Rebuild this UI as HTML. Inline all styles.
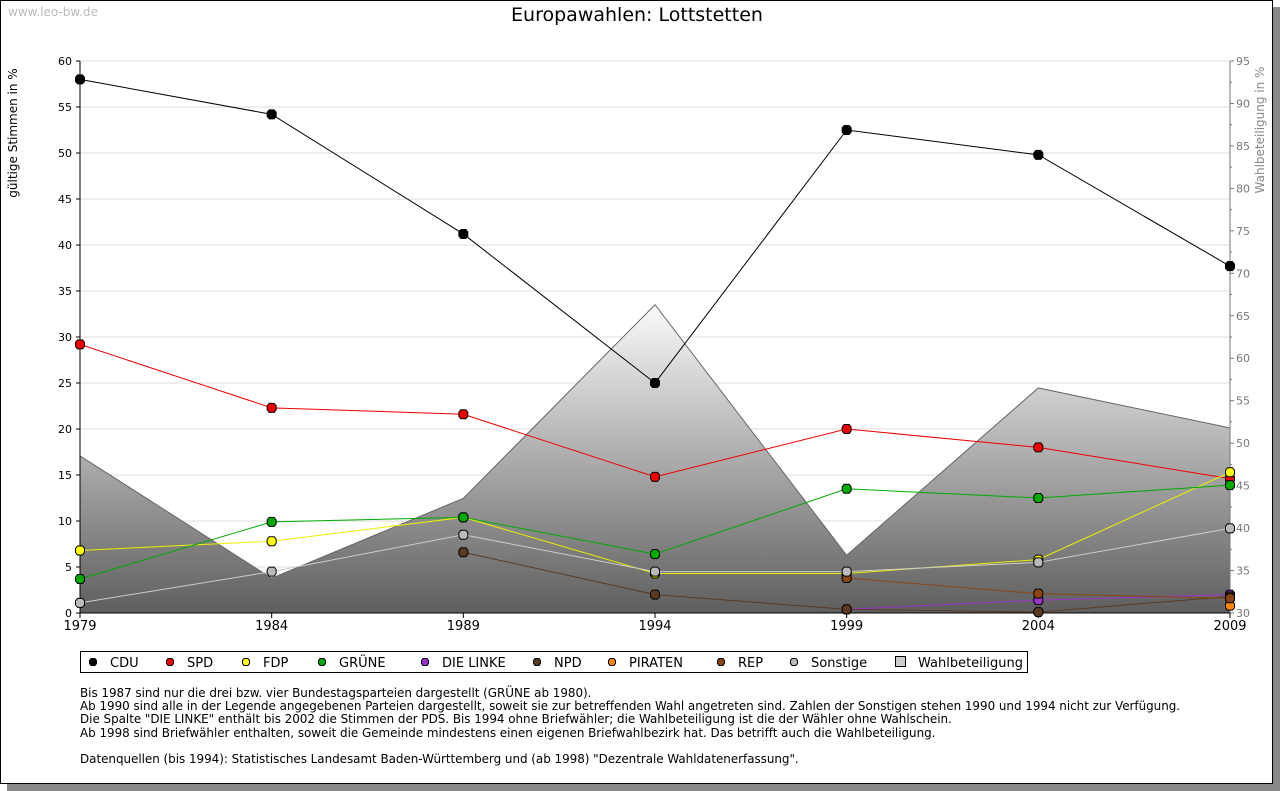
<!DOCTYPE html>
<html><head><meta charset="utf-8"><style>
body{margin:0;background:#fff;width:1280px;height:791px;overflow:hidden;font-family:"DejaVu Sans","Liberation Sans",sans-serif;}
#frame{position:absolute;left:0;top:0;width:1271px;height:782px;border:1px solid #000;box-shadow:7px 7px 0 #888;background:#fff;}
.notes{position:absolute;left:80px;top:687px;font-size:11.95px;letter-spacing:-0.03px;line-height:13.2px;color:#000;white-space:pre;}
</style></head><body>
<div id="frame"></div>
<svg id="chart" width="1280" height="791" style="position:absolute;left:0;top:0">
<defs><linearGradient id="wg" x1="0" y1="0" x2="0" y2="1"><stop offset="0" stop-color="#fafafa"/><stop offset="1" stop-color="#5e5e5e"/></linearGradient></defs>
<text x="8" y="16" font-size="12" fill="#bbb">www.leo-bw.de</text>
<text x="637" y="21" font-size="19" text-anchor="middle">Europawahlen: Lottstetten</text>
<text transform="translate(17,133) rotate(-90)" font-size="12" text-anchor="middle">gültige Stimmen in %</text>
<text transform="translate(1264,130) rotate(-90)" font-size="12" text-anchor="middle" fill="#888">Wahlbeteiligung in %</text>
<g id="g"></g>
</svg>
<div class="notes">Bis 1987 sind nur die drei bzw. vier Bundestagsparteien dargestellt (GRÜNE ab 1980).
Ab 1990 sind alle in der Legende angegebenen Parteien dargestellt, soweit sie zur betreffenden Wahl angetreten sind. Zahlen der Sonstigen stehen 1990 und 1994 nicht zur Verfügung.
Die Spalte "DIE LINKE" enthält bis 2002 die Stimmen der PDS. Bis 1994 ohne Briefwähler; die Wahlbeteiligung ist die der Wähler ohne Wahlschein.
Ab 1998 sind Briefwähler enthalten, soweit die Gemeinde mindestens einen eigenen Briefwahlbezirk hat. Das betrifft auch die Wahlbeteiligung.

Datenquellen (bis 1994): Statistisches Landesamt Baden-Württemberg und (ab 1998) "Dezentrale Wahldatenerfassung".</div>
<script>
const years=[1979,1984,1989,1994,1999,2004,2009];
const seriesNames=["CDU","SPD","FDP","GRÜNE","DIE LINKE","NPD","PIRATEN","REP","Sonstige"];
const seriesColors=["#000","#e00","#ff0","#0a0","#93c","#5a3a22","#f80","#8b4513","#bbb"];
const lineColors=["#000","#e00","#ee0","#0a0","#93c","#5a3a22","#f80","#8b4513","#ccc"];
const cdu=[58.0,54.2,41.2,25.0,52.5,49.8,37.7];
const spd=[29.2,22.3,21.6,14.8,20.0,18.0,14.6];
const fdp=[6.8,7.8,10.4,4.3,4.3,5.8,15.3];
const gruene=[3.7,9.9,10.4,6.4,13.5,12.5,13.9];
const linke=[null,null,null,null,0.4,1.4,2.0];
const npd=[null,null,6.6,2.0,0.4,0.1,1.8];
const piraten=[null,null,null,null,null,null,0.8];
const rep=[null,null,null,null,3.8,2.1,1.6];
const sonstige=[1.1,4.5,8.5,4.5,4.5,5.5,9.2];
const turnout=[48.5,34.1,43.5,66.3,36.8,56.5,51.8];
const yTicks=[0,5,10,15,20,25,30,35,40,45,50,55,60];
const y2Ticks=[30,35,40,45,50,55,60,65,70,75,80,85,90,95];
const all=[cdu,spd,fdp,gruene,linke,npd,piraten,rep,sonstige];
const X0=80,X1=1230,YB=613,YT=61;
const x=v=>X0+(v-years[0])/(years[years.length-1]-years[0])*(X1-X0);
const y=v=>YB-v/60*(YB-YT);
const y2=v=>YB-(v-30)/65*(YB-YT);
const g=document.getElementById('g');
const NS="http://www.w3.org/2000/svg";
function mk(t,a,p){const e=document.createElementNS(NS,t);for(const k in a)e.setAttribute(k,a[k]);(p||g).appendChild(e);return e;}
function marker(cx,cy,fill,r){return mk('path',{d:`M${cx-r*0.55},${cy-r} L${cx+r*0.55},${cy-r} L${cx+r},${cy-r*0.45} L${cx+r},${cy+r*0.45} L${cx+r*0.55},${cy+r} L${cx-r*0.55},${cy+r} L${cx-r},${cy+r*0.45} L${cx-r},${cy-r*0.45}Z`,fill:fill,stroke:'#000','stroke-width':1});}
yTicks.forEach(t=>{const l=mk('line',{x1:X0,x2:X1,y1:y(t),y2:y(t),stroke:'#ddd'});

const tx=mk('text',{x:X0-8,y:y(t)+4,'font-size':11,'text-anchor':'end'});tx.textContent=t;

mk('line',{x1:X0-4,x2:X0,y1:y(t),y2:y(t),stroke:'#000'});});
y2Ticks.forEach(t=>{const tx=mk('text',{x:X1+6,y:y2(t)+4,'font-size':11,fill:'#777'});tx.textContent=t;

mk('line',{x1:X1,x2:X1+4,y1:y2(t),y2:y2(t),stroke:'#777'});
if(t<95)mk('line',{x1:X1,x2:X1+2,y1:y2(t+2.5),y2:y2(t+2.5),stroke:'#777'});});
let d='M'+x(years[0])+','+YB;years.forEach((yr,i)=>d+=' L'+x(yr)+','+y2(turnout[i]));d+=' L'+x(years[years.length-1])+','+YB+'Z';
const area=mk('path',{d:d,fill:'url(#wg)',stroke:'#666'});

mk('line',{x1:X0,x2:X0,y1:YT,y2:YB,stroke:'#000'});
mk('line',{x1:X1,x2:X1,y1:YT,y2:YB,stroke:'#777'});
mk('line',{x1:X0,x2:X1,y1:YB,y2:YB,stroke:'#000'});
years.forEach(yr=>{mk('line',{x1:x(yr),x2:x(yr),y1:YB,y2:YB+5,stroke:'#000'});
const tx=mk('text',{x:x(yr),y:YB+17,'font-size':13,'text-anchor':'middle'});tx.textContent=yr;
});
all.forEach((s,si)=>{let pts=[];s.forEach((v,i)=>{if(v!==null)pts.push([x(years[i]),y(v)]);});
if(pts.length>1){const pl=mk('polyline',{points:pts.map(p=>p.join(',')).join(' '),fill:'none',stroke:lineColors[si],'stroke-width':1});
}
pts.forEach(p=>{const m=marker(p[0],p[1],seriesColors[si],4.5);
});});
const lg=mk('rect',{x:80.5,y:651.5,width:947,height:21,fill:'#fff',stroke:'#000'});

const lx=[93,170,246,322,425,537,612,721,794];
seriesNames.forEach((n,i)=>{const cx=lx[i],cy=662;
marker(cx,cy,seriesColors[i],3.5);
const t=mk('text',{x:cx+17,y:cy+5,'font-size':13});t.textContent=n;
});
mk('rect',{x:895.5,y:656.5,width:10,height:10,fill:'#ccc',stroke:'#000'});
const wt=mk('text',{x:918,y:667,'font-size':13});wt.textContent='Wahlbeteiligung';

</script>
</body></html>
